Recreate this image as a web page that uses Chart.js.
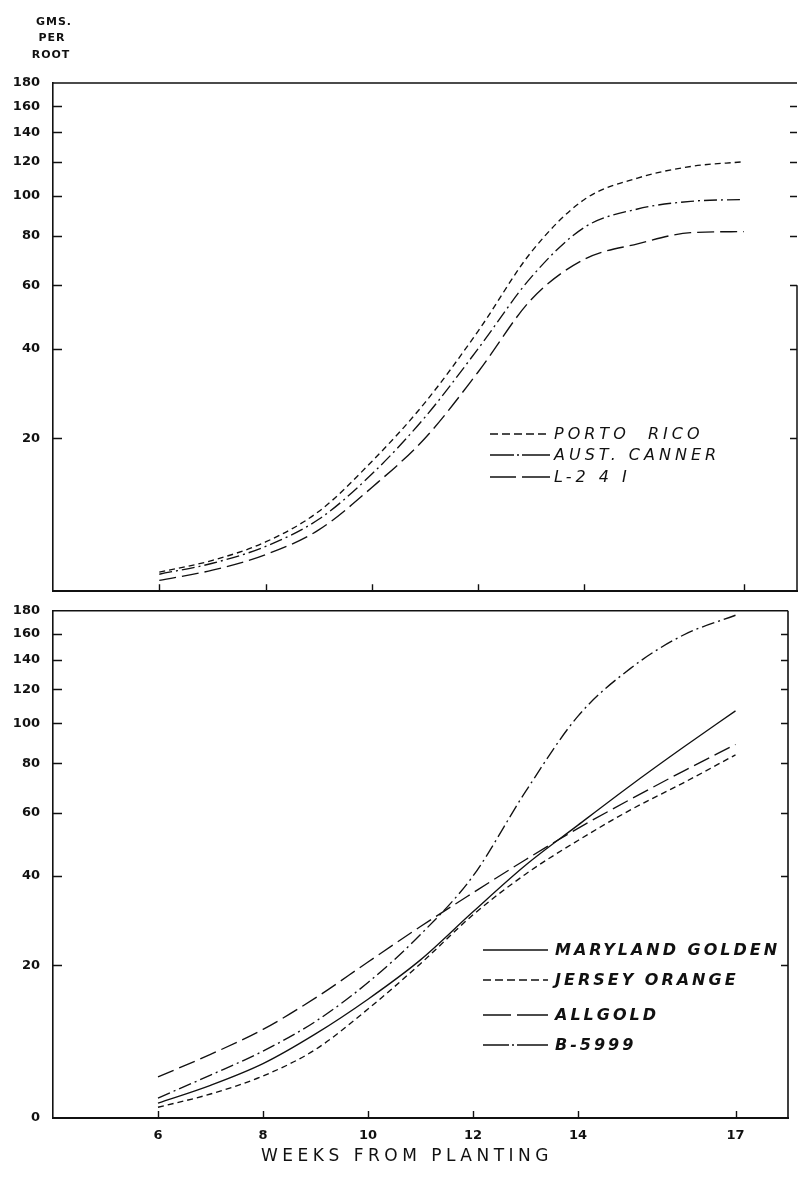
<!DOCTYPE html>
<html>
<head>
<meta charset="utf-8">
<title>Root weight by weeks from planting</title>
<script src="https://cdn.jsdelivr.net/npm/chart.js@4.4.1/dist/chart.umd.min.js"></script>
<style>
  html, body { margin: 0; padding: 0; background: #fff; }
  body { width: 799px; height: 1177px; position: relative; overflow: hidden; }
  canvas { position: absolute; left: 0; }
  #upper { top: 0; }
  #lower { top: 590px; }
</style>
</head>
<body>
<canvas id="upper" width="799" height="612"></canvas>
<canvas id="lower" width="799" height="587"></canvas>
<script>
// Weeks from planting at which the curves are read
const weeks = [6, 7, 8, 9, 10, 11, 12, 13, 14, 15, 16, 17];
const weekTicks = [6, 8, 10, 12, 14, 17];
const gramTicks = [0, 20, 40, 60, 80, 100, 120, 140, 160, 180];

// Upper panel: grams per root
const portoRico   = [1.8, 3.0, 5.0, 8.7, 16, 27, 45, 73, 98, 110, 117, 120];
const austCanner  = [1.6, 2.7, 4.5, 7.7, 14, 24, 40, 63, 84, 93, 97, 98];
const l241        = [1.0, 2.0, 3.6, 6.4, 12, 20, 34, 55, 70, 76.5, 81.5, 82];

// Lower panel: grams per root
const marylandGolden = [1.4, 3.2, 5.6, 9.3, 14.3, 21, 31, 43, 55.6, 70.5, 87.5, 107];
const jerseyOrange   = [1.0, 2.3, 4.2, 7.3, 12.8, 20.3, 30.3, 40.5, 50.5, 61, 71.5, 84];
const allgold        = [4.1, 6.7, 9.9, 14.5, 20.6, 27.7, 35.6, 44.6, 54.5, 65, 76.5, 89];
const b5999          = [1.9, 4.3, 7.1, 11, 17, 26, 40, 68, 104, 134, 159, 176];

// Vertical axis is ruled as log(grams + 20)
const ROOT_SHIFT = 20;

class RootWeightScale extends Chart.LinearScale {
  static id = 'rootWeight';
  static defaults = Chart.LinearScale.defaults;
  _warp(v) { return Math.log10((v + ROOT_SHIFT) / ROOT_SHIFT); }
  getPixelForValue(value) {
    const lo = this._warp(this.min), hi = this._warp(this.max);
    return this.getPixelForDecimal((this._warp(value) - lo) / (hi - lo));
  }
  getValueForPixel(pixel) {
    const lo = this._warp(this.min), hi = this._warp(this.max);
    const w = lo + this.getDecimalForPixel(pixel) * (hi - lo);
    return ROOT_SHIFT * Math.pow(10, w) - ROOT_SHIFT;
  }
}
Chart.register(RootWeightScale);

const INK = '#111';
const DASH = {
  solid: [],
  short: [6, 4],
  dashDot: [13, 4, 2, 4],
  long: [17, 6]
};

function series(label, values, dash) {
  return {
    label,
    data: weeks.map((w, i) => ({ x: w, y: values[i] })),
    borderColor: INK, borderWidth: 1.35, borderDash: dash,
    pointRadius: 0, fill: false,
    cubicInterpolationMode: 'monotone'
  };
}

// Inward tick marks, frame edges, legend and free text
const framePlugin = {
  id: 'frame',
  afterDraw(chart, args, opts) {
    const { ctx, chartArea: a, scales: { x, y } } = chart;
    ctx.save();
    ctx.strokeStyle = INK;
    ctx.lineWidth = 1.4;
    ctx.setLineDash([]);
    ctx.beginPath();
    // y ticks, left (pointing right) and right (pointing left)
    gramTicks.forEach(v => {
      if (v === 0 || v === 180) return;
      const py = Math.round(y.getPixelForValue(v)) + 0.5;
      ctx.moveTo(a.left, py); ctx.lineTo(a.left + 9, py);
      ctx.moveTo(a.right, py); ctx.lineTo(a.right - 7, py);
    });
    // x ticks pointing up
    weekTicks.forEach(w => {
      const px = Math.round(x.getPixelForValue(w)) + 0.5;
      ctx.moveTo(px, a.bottom); ctx.lineTo(px, a.bottom - 7);
    });
    ctx.stroke();
    // top and right edges of the frame
    ctx.lineWidth = opts.edgeWidth;
    ctx.beginPath();
    ctx.moveTo(a.left, a.top); ctx.lineTo(a.right, a.top);
    ctx.moveTo(a.right, y.getPixelForValue(opts.rightEdgeFrom)); ctx.lineTo(a.right, a.bottom);
    ctx.stroke();

    // legend
    const L = opts.legend;
    ctx.fillStyle = INK;
    ctx.textBaseline = 'middle';
    chart.data.datasets.forEach((ds, i) => {
      const yy = L.rows[i];
      ctx.lineWidth = 1.4;
      ctx.setLineDash(L.dashes[i]);
      ctx.beginPath();
      ctx.moveTo(L.x0, yy); ctx.lineTo(L.x1, yy);
      ctx.stroke();
      ctx.setLineDash([]);
      ctx.font = L.font;
      ctx.letterSpacing = L.spacing;
      ctx.fillText(L.text ? L.text[i] : ds.label, L.tx, yy + 1);
    });

    // free text
    (opts.texts || []).forEach(t => {
      ctx.font = t.font;
      ctx.letterSpacing = t.spacing || '0px';
      ctx.textAlign = 'center';
      ctx.textBaseline = 'middle';
      ctx.fillText(t.text, t.x, t.y);
    });
    ctx.restore();
  }
};

const tickFont = { family: 'DejaVu Sans', size: 13, weight: 'bold' };

function yAxis(hideZero) {
  return {
    type: 'rootWeight', position: 'left', min: 0, max: 180,
    afterFit: s => { s.width = 53; },
    afterBuildTicks: s => { s.ticks = gramTicks.map(v => ({ value: v })); },
    grid: { display: true, drawOnChartArea: false, drawTicks: false },
    border: { display: true, color: INK, width: 1.6 },
    ticks: {
      color: INK, font: tickFont, padding: 13,
      callback: v => (hideZero && v === 0) ? '' : String(v)
    }
  };
}

function xAxis(height, showLabels) {
  return {
    type: 'linear', min: 4, max: 18,
    afterFit: s => { s.height = height; },
    afterBuildTicks: s => { s.ticks = weekTicks.map(v => ({ value: v })); },
    grid: { display: true, drawOnChartArea: false, drawTicks: false },
    border: { display: true, color: INK, width: 2 },
    ticks: { display: showLabels, color: INK, font: tickFont, padding: 10, maxRotation: 0 }
  };
}

const common = {
  responsive: false, animation: false, devicePixelRatio: 1,
  plugins: { legend: { display: false }, tooltip: { enabled: false } }
};

new Chart(document.getElementById('upper'), {
  type: 'line',
  data: {
    datasets: [
      series('PORTO RICO', portoRico, DASH.short),
      series('AUST. CANNER', austCanner, DASH.dashDot),
      series('L-241', l241, DASH.long)
    ]
  },
  options: {
    ...common,
    layout: { padding: { top: 83, right: 2, left: 0, bottom: 0 } },
    scales: { x: xAxis(8, false), y: yAxis(true) },
    plugins: {
      ...common.plugins,
      frame: {
        edgeWidth: 1.5, rightEdgeFrom: 60,
        legend: {
          font: 'italic 16px "DejaVu Sans"', spacing: '4px',
          text: ['PORTO  RICO', 'AUST. CANNER', 'L-2 4 I'],
          x0: 490, x1: 550, tx: 554, rows: [434, 455, 477],
          dashes: [[8, 4], [24, 3, 2, 3, 60], [26, 6, 60]]
        },
        texts: [
          { text: 'GMS.', x: 54, y: 22, font: 'bold 11px "DejaVu Sans"', spacing: '1px' },
          { text: 'PER', x: 52, y: 38, font: 'bold 11px "DejaVu Sans"', spacing: '1px' },
          { text: 'ROOT', x: 51, y: 55, font: 'bold 11px "DejaVu Sans"', spacing: '1px' }
        ]
      }
    }
  },
  plugins: [framePlugin]
});

new Chart(document.getElementById('lower'), {
  type: 'line',
  data: {
    datasets: [
      series('MARYLAND GOLDEN', marylandGolden, DASH.solid),
      series('JERSEY ORANGE', jerseyOrange, DASH.short),
      series('ALLGOLD', allgold, DASH.long),
      series('B-5999', b5999, DASH.dashDot)
    ]
  },
  options: {
    ...common,
    layout: { padding: { top: 15, right: 11, left: 0, bottom: 0 } },
    scales: { x: xAxis(59, true), y: yAxis(false) },
    plugins: {
      ...common.plugins,
      frame: {
        edgeWidth: 1.6, rightEdgeFrom: 180,
        legend: {
          font: 'italic bold 16px "DejaVu Sans"', spacing: '3px',
          x0: 483, x1: 548, tx: 555, rows: [360, 390, 425, 455],
          dashes: [[], [8, 4], [28, 6, 60], [26, 3, 2, 3, 60]]
        },
        texts: [
          { text: 'WEEKS FROM PLANTING', x: 407, y: 567, font: '17px "DejaVu Sans"', spacing: '4.5px' }
        ]
      }
    }
  },
  plugins: [framePlugin]
});
</script>
</body>
</html>
